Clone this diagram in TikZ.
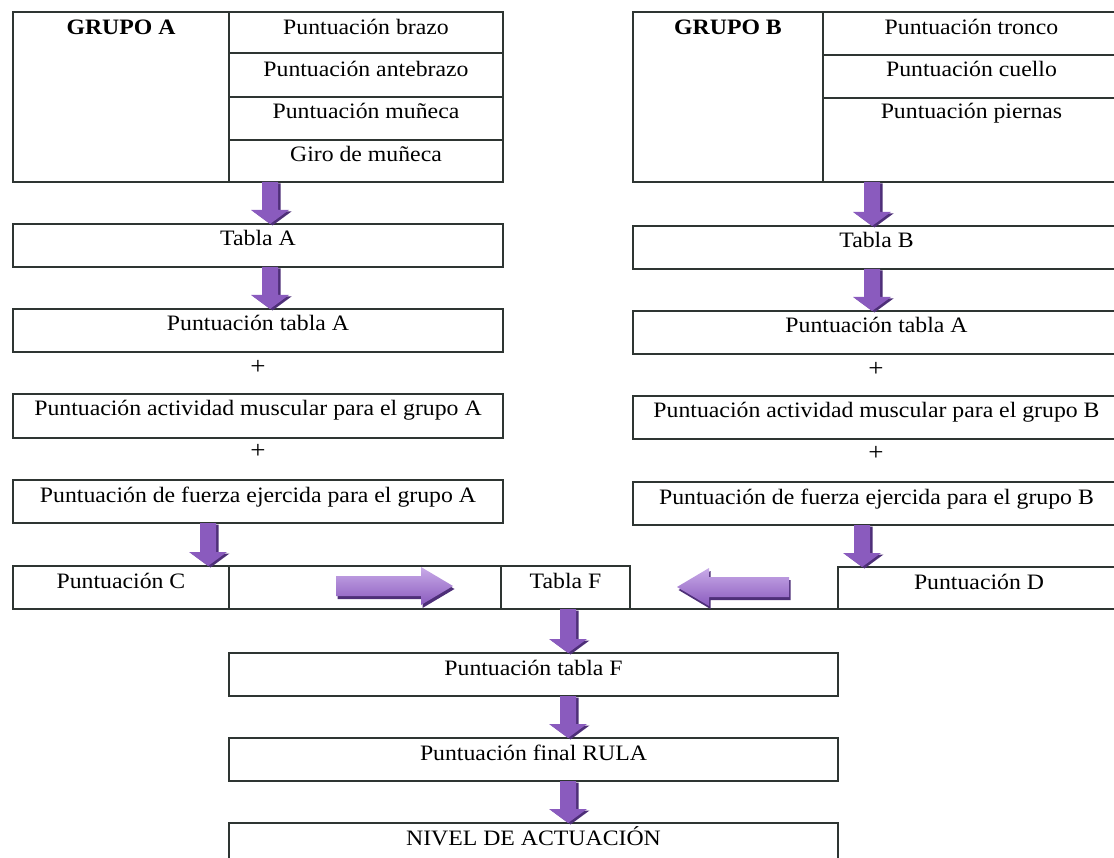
\documentclass[tikz,border=0pt]{standalone}
\usepackage{fontspec}
\setmainfont{Liberation Serif}[FakeStretch=1.08]
\usetikzlibrary{calc}

\definecolor{rule}{HTML}{2E3532}
\definecolor{arrlight}{HTML}{C9ABE8}
\definecolor{arrmid}{HTML}{8A5BBE}
\definecolor{arrdark}{HTML}{4E2F78}

% block arrow pointing down, from coordinate #1 (top) to coordinate #2 (tip),
% with a dark drop shadow offset to the lower right
\newcommand{\blockdown}[2]{%
  \fill[arrdark] let \p1=($(#1)+(2.5pt,-1.5pt)$), \p2=($(#2)+(2.5pt,-1.5pt)$) in
    (\x1-8pt,\y1) -- (\x1+8pt,\y1) -- (\x1+8pt,\y2+14pt) -- (\x1+19pt,\y2+14pt)
    -- (\x1,\y2) -- (\x1-19pt,\y2+14pt) -- (\x1-8pt,\y2+14pt) -- cycle;
  \shade[left color=arrmid,middle color=arrlight,right color=arrmid] let \p1=(#1), \p2=(#2) in
    (\x1-8pt,\y1) -- (\x1+8pt,\y1) -- (\x1+8pt,\y2+14pt) -- (\x1+19pt,\y2+14pt)
    -- (\x1,\y2) -- (\x1-19pt,\y2+14pt) -- (\x1-8pt,\y2+14pt) -- cycle;
}
% horizontal block arrow from #1 to tip #2; #3 = 1 (rightwards) or -1 (leftwards)
\newcommand{\blockhoriz}[3]{%
  \fill[arrdark] let \p1=($(#1)+(1.5pt,-3pt)$), \p2=($(#2)+(1.5pt,-3pt)$), \n1={#3*32pt} in
    (\x1,\y1+10pt) -- ({\x2-\n1},\y1+10pt) -- ({\x2-\n1},\y1+19pt) -- (\x2,\y1)
    -- ({\x2-\n1},\y1-19pt) -- ({\x2-\n1},\y1-10pt) -- (\x1,\y1-10pt) -- cycle;
  \shade[top color=arrlight,middle color=arrmid!75!arrlight,bottom color=arrmid] let \p1=(#1), \p2=(#2), \n1={#3*32pt} in
    (\x1,\y1+10pt) -- ({\x2-\n1},\y1+10pt) -- ({\x2-\n1},\y1+19pt) -- (\x2,\y1)
    -- ({\x2-\n1},\y1-19pt) -- ({\x2-\n1},\y1-10pt) -- (\x1,\y1-10pt) -- cycle;
}

\begin{document}
\begin{tikzpicture}[x=1pt,y=-1pt,
  cell/.style={draw=rule,line width=1.4pt,inner sep=0pt,outer sep=0pt,anchor=north west},
  lbl/.style={anchor=base,inner sep=0pt,font=\fontsize{22}{26}\selectfont},
  plus/.style={anchor=center,inner sep=0pt,font=\fontsize{25}{28}\selectfont}]
\useasboundingbox (0,0) rectangle (1114,858);

% ---- Grupo A table
\node[cell,minimum width=216pt,minimum height=170pt] (gA) at (13,12) {};
\node[cell,minimum width=274pt,minimum height=41pt] (aBr) at (229,12) {};
\node[cell,minimum width=274pt,minimum height=44pt] (aAnt) at (229,53) {};
\node[cell,minimum width=274pt,minimum height=43pt] (aMun) at (229,97) {};
\node[cell,minimum width=274pt,minimum height=42pt] (aGiro) at (229,140) {};
\node[lbl,font=\fontsize{22}{26}\selectfont\bfseries] (gAt) at ($(gA.north)+(0,23)$) {GRUPO A};
\node[lbl] (aBrt) at ($(aBr.north)+(0,23)$) {Puntuación brazo};
\node[lbl] (aAntt) at ($(aAnt.north)+(0,24)$) {Puntuación antebrazo};
\node[lbl] (aMunt) at ($(aMun.north)+(0,22)$) {Puntuación muñeca};
\node[lbl] (aGirot) at ($(aGiro.north)+(0,22)$) {Giro de muñeca};

% ---- Grupo B table (runs past the right edge)
\node[cell,minimum width=190pt,minimum height=170pt] (gB) at (633,12) {};
\node[cell,minimum width=297pt,minimum height=43pt] (bTr) at (823,12) {};
\node[cell,minimum width=297pt,minimum height=43pt] (bCu) at (823,55) {};
\node[cell,minimum width=297pt,minimum height=84pt] (bPi) at (823,98) {};
\node[lbl,font=\fontsize{22}{26}\selectfont\bfseries] (gBt) at ($(gB.north)+(0,23)$) {GRUPO B};
\node[lbl] (bTrt) at ($(bTr.north)+(0,23)$) {Puntuación tronco};
\node[lbl] (bCut) at ($(bCu.north)+(0,22)$) {Puntuación cuello};
\node[lbl] (bPit) at ($(bPi.north)+(0,21)$) {Puntuación piernas};

% ---- left column
\node[cell,minimum width=490pt,minimum height=43pt] (tA) at (13,224) {};
\node[cell,minimum width=490pt,minimum height=43pt] (ptA) at (13,309) {};
\node[cell,minimum width=490pt,minimum height=44pt] (amA) at (13,394) {};
\node[cell,minimum width=490pt,minimum height=43pt] (fzA) at (13,480) {};
\node[lbl] (tAt) at ($(tA.north)+(0,22)$) {Tabla A};
\node[lbl] (ptAt) at ($(ptA.north)+(0,22)$) {Puntuación tabla A};
\node[lbl] (amAt) at ($(amA.north)+(0,22)$) {Puntuación actividad muscular para el grupo A};
\node[lbl] (fzAt) at ($(fzA.north)+(0,22)$) {Puntuación de fuerza ejercida para el grupo A};
\node[plus] (plA1) at (258,367) {+};
\node[plus] (plA2) at (258,451) {+};

% ---- right column
\node[cell,minimum width=487pt,minimum height=43pt] (tB) at (633,226) {};
\node[cell,minimum width=487pt,minimum height=43pt] (ptB) at (633,311) {};
\node[cell,minimum width=487pt,minimum height=43pt] (amB) at (633,396) {};
\node[cell,minimum width=487pt,minimum height=43pt] (fzB) at (633,482) {};
\node[lbl] (tBt) at ($(tB.north)+(0,22)$) {Tabla B};
\node[lbl] (ptBt) at ($(ptB.north)+(0,22)$) {Puntuación tabla A};
\node[lbl] (amBt) at ($(amB.north)+(0,22)$) {Puntuación actividad muscular para el grupo B};
\node[lbl] (fzBt) at ($(fzB.north)+(0,22)$) {Puntuación de fuerza ejercida para el grupo B};
\node[plus] (plB1) at (876,369) {+};
\node[plus] (plB2) at (876,453) {+};

% ---- C / F / D row
\node[cell,minimum width=216pt,minimum height=43pt] (cC) at (13,566) {};
\node[cell,minimum width=272pt,minimum height=43pt] (cE) at (229,566) {};
\node[cell,minimum width=129pt,minimum height=43pt] (cF) at (501,566) {};
\node[cell,minimum width=282pt,minimum height=42pt] (cD) at (838,567) {};
\draw[rule,line width=1.4pt] (cF.south east) -- (cD.south west);
\node[lbl] (cCt) at ($(cC.north)+(0,22)$) {Puntuación C};
\node[lbl] (cFt) at ($(cF.north)+(0,22)$) {Tabla F};
\node[lbl] (cDt) at ($(cD.north)+(0,22)$) {Puntuación D};

% ---- bottom sequence
\node[cell,minimum width=609pt,minimum height=43pt] (ptF) at (229,653) {};
\node[cell,minimum width=609pt,minimum height=43pt] (fin) at (229,738) {};
\node[cell,minimum width=609pt,minimum height=43pt] (niv) at (229,823) {};
\node[lbl] (ptFt) at ($(ptF.north)+(0,22)$) {Puntuación tabla F};
\node[lbl] (fint) at ($(fin.north)+(0,22)$) {Puntuación final RULA};
\node[lbl] (nivt) at ($(niv.north)+(0,22)$) {NIVEL DE ACTUACIÓN};

% ---- arrow end points
\coordinate (a1s) at (aGiro.south -| 270,0);
\coordinate (a1e) at (tA.north -| 270,0);
\coordinate (a2s) at (tA.south -| 270,0);
\coordinate (a2e) at (ptA.north -| 270,0);
\coordinate (a3s) at (fzA.south -| 208,0);
\coordinate (a3e) at (cC.north -| 208,0);
\coordinate (b1s) at (bPi.south -| 872,0);
\coordinate (b1e) at (tB.north -| 872,0);
\coordinate (b2s) at (tB.south -| 872,0);
\coordinate (b2e) at (ptB.north -| 872,0);
\coordinate (b3s) at (fzB.south -| 862,0);
\coordinate (b3e) at (cD.north -| 862,0);
\coordinate (f1s) at (cF.south -| 568,0);
\coordinate (f1e) at (ptF.north -| 568,0);
\coordinate (f2s) at (ptF.south -| 568,0);
\coordinate (f2e) at (fin.north -| 568,0);
\coordinate (f3s) at (fin.south -| 568,0);
\coordinate (f3e) at (niv.north -| 568,0);
\coordinate (hrs) at (336,586);
\coordinate (hre) at (453,586);
\coordinate (hls) at (789,587);
\coordinate (hle) at (677,587);

% ---- arrows
\blockdown{a1s}{a1e}
\blockdown{a2s}{a2e}
\blockdown{a3s}{a3e}
\blockdown{b1s}{b1e}
\blockdown{b2s}{b2e}
\blockdown{b3s}{b3e}
\blockdown{f1s}{f1e}
\blockdown{f2s}{f2e}
\blockdown{f3s}{f3e}
\blockhoriz{hrs}{hre}{1}
\blockhoriz{hls}{hle}{-1}
\end{tikzpicture}
\end{document}
